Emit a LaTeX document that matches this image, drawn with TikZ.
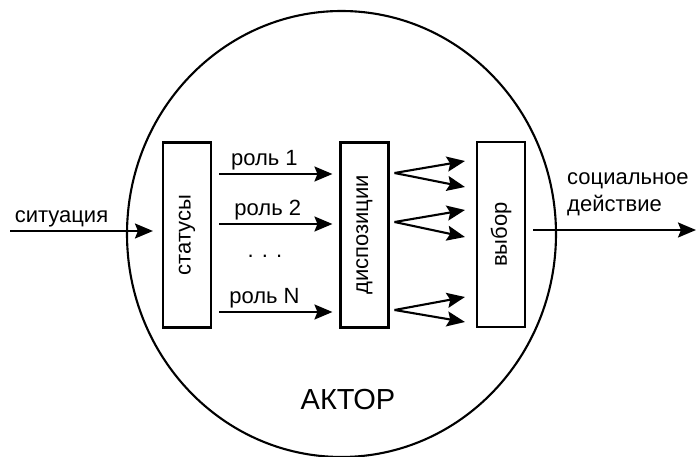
\documentclass[tikz,border=0pt]{standalone}
\usepackage{fontspec}
\setmainfont{Liberation Sans}
\usetikzlibrary{arrows.meta, calc}

\tikzset{
	box/.style={draw, line width=2.1pt, minimum width=48pt, minimum height=185pt, inner sep=0pt},
	arr/.style={line width=2.1pt, -{Stealth[length=18pt, width=15pt, inset=3pt]}},
}

\begin{document}
\begin{tikzpicture}[x=1pt, y=-1pt, font=\fontsize{22}{27}\selectfont]
				\useasboundingbox (0,0) rectangle (697,457);
				
				\coordinate (O) at (341.5, 234);
				\coordinate (in) at (10, 231);
				\coordinate (out) at (696, 230);
				
				\draw[line width=2.1pt] (O) ellipse [x radius=214.5, y radius=223];
				\node (actor) at (348, 400) {\fontsize{29}{32}\selectfont АКТОР};
				
				\node[box] (stat) at (187, 235) {\rotatebox{90}{статусы}};
				\node[box] (disp) at (364.5, 235) {\rotatebox{90}{диспозиции}};
				\node[box] (choice) at (501, 234.5) {\rotatebox{90}{выбор}};
				
				\draw[arr] (in) -- node[above, pos=0.36]{ситуация} ([xshift=-9pt, yshift=4pt]stat.west);
				\draw[arr] ([xshift=7pt, yshift=4.5pt]choice.east) -- (out);
				\node[anchor=south west, align=left, inner sep=0pt] (action) at (567, 216) {социальное\\действие};
				
				\draw[arr] ([xshift=7pt, yshift=61pt]stat.east) -- node[above, pos=0.4]{роль 1} ([xshift=-7pt, yshift=61pt]disp.west);
				\draw[arr] ([xshift=7pt, yshift=11pt]stat.east) -- node[above, pos=0.43]{роль 2} ([xshift=-7pt, yshift=11pt]disp.west);
				\draw[arr] ([xshift=7pt, yshift=-77pt]stat.east) -- node[above, pos=0.4]{роль N} ([xshift=-7pt, yshift=-77pt]disp.west);
				\node (dots) at (265, 256) {. . .};
				
				\foreach \t/\a/\b in {62/73.5/47.5, 13/24.5/-2.5, -75/-62.5/-87.5} {
					\draw[arr] ([xshift=5pt, yshift=\t pt]disp.east) -- ([xshift=-11pt, yshift=\a pt]choice.west);
					\draw[arr] ([xshift=5pt, yshift=\t pt]disp.east) -- ([xshift=-11pt, yshift=\b pt]choice.west);
				}
			\end{tikzpicture}
\end{document}
